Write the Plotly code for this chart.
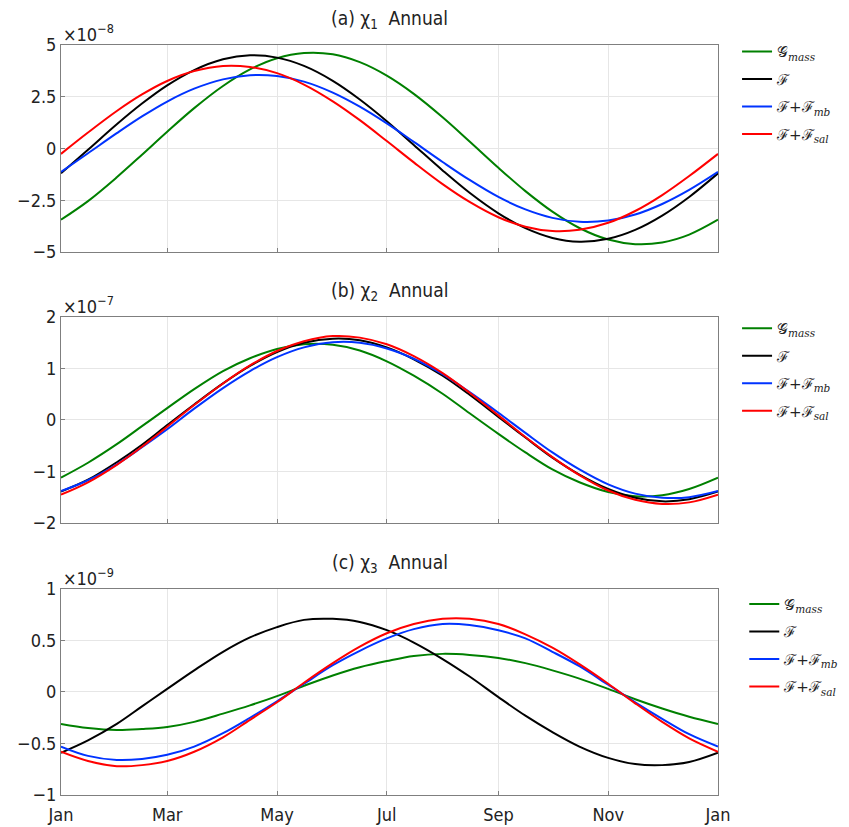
import plotly.graph_objects as go

# Sample dates (1st and 16th/15th of each month)
dates = ["2001-01-01", "2001-01-16", "2001-02-01", "2001-02-15", "2001-03-01", "2001-03-16",
         "2001-04-01", "2001-04-16", "2001-05-01", "2001-05-16", "2001-06-01", "2001-06-16",
         "2001-07-01", "2001-07-16", "2001-08-01", "2001-08-16", "2001-09-01", "2001-09-16",
         "2001-10-01", "2001-10-16", "2001-11-01", "2001-11-16", "2001-12-01", "2001-12-16",
         "2002-01-01"]

tick_vals = ["2001-01-01", "2001-03-01", "2001-05-01", "2001-07-01",
             "2001-09-01", "2001-11-01", "2002-01-01"]
tick_text = ["Jan", "Mar", "May", "Jul", "Sep", "Nov", "Jan"]

# (a) chi_1, units of 1e-8
a_gmass = [-3.44, -2.54, -1.39, -0.30, 0.81, 1.95, 3.02, 3.82, 4.36, 4.61, 4.55, 4.17, 3.52,
           2.64, 1.51, 0.34, -0.93, -2.06, -3.05, -3.84, -4.40, -4.62, -4.54, -4.16, -3.44]
a_f     = [-1.20, -0.06, 1.17, 2.17, 3.05, 3.79, 4.31, 4.50, 4.39, 3.99, 3.27, 2.37, 1.32,
           0.17, -1.06, -2.14, -3.13, -3.85, -4.32, -4.50, -4.36, -3.93, -3.24, -2.34, -1.20]
a_fmb   = [-1.13, -0.23, 0.74, 1.55, 2.27, 2.89, 3.34, 3.54, 3.50, 3.23, 2.70, 2.02, 1.21,
           0.32, -0.65, -1.52, -2.34, -2.94, -3.35, -3.54, -3.48, -3.19, -2.68, -2.00, -1.13]
a_fsal  = [-0.26, 0.77, 1.81, 2.61, 3.26, 3.74, 3.99, 3.94, 3.64, 3.09, 2.28, 1.37, 0.36,
           -0.67, -1.72, -2.58, -3.32, -3.78, -3.99, -3.93, -3.59, -3.02, -2.25, -1.33, -0.26]

# (b) chi_2, units of 1e-7
b_gmass = [-1.12, -0.83, -0.47, -0.12, 0.23, 0.60, 0.95, 1.20, 1.38, 1.47, 1.46, 1.35, 1.14,
           0.86, 0.51, 0.13, -0.27, -0.63, -0.96, -1.21, -1.40, -1.48, -1.46, -1.34, -1.12]
b_f     = [-1.39, -1.16, -0.82, -0.48, -0.10, 0.30, 0.71, 1.05, 1.32, 1.50, 1.58, 1.55, 1.41,
           1.18, 0.86, 0.49, 0.06, -0.34, -0.73, -1.06, -1.34, -1.51, -1.58, -1.54, -1.39]
b_fmb   = [-1.38, -1.17, -0.86, -0.53, -0.18, 0.22, 0.62, 0.95, 1.22, 1.41, 1.51, 1.50, 1.39,
           1.19, 0.89, 0.54, 0.14, -0.25, -0.63, -0.96, -1.25, -1.43, -1.51, -1.50, -1.38]
b_fsal  = [-1.45, -1.21, -0.87, -0.52, -0.13, 0.29, 0.71, 1.06, 1.34, 1.53, 1.63, 1.60, 1.47,
           1.24, 0.91, 0.53, 0.09, -0.33, -0.72, -1.07, -1.37, -1.55, -1.63, -1.60, -1.45]

# (c) chi_3, units of 1e-9
c_gmass = [-0.31, -0.35, -0.37, -0.36, -0.34, -0.29, -0.21, -0.13, -0.04, 0.06, 0.16, 0.24, 0.30,
           0.35, 0.37, 0.36, 0.33, 0.28, 0.21, 0.13, 0.03, -0.07, -0.16, -0.24, -0.31]
c_f     = [-0.59, -0.47, -0.31, -0.14, 0.03, 0.21, 0.39, 0.53, 0.63, 0.70, 0.71, 0.68, 0.60,
           0.48, 0.32, 0.15, -0.05, -0.23, -0.39, -0.53, -0.64, -0.70, -0.71, -0.68, -0.59]
c_fmb   = [-0.53, -0.62, -0.66, -0.65, -0.61, -0.53, -0.40, -0.25, -0.09, 0.08, 0.26, 0.40, 0.52,
           0.61, 0.66, 0.65, 0.60, 0.52, 0.39, 0.25, 0.07, -0.10, -0.26, -0.41, -0.53]
c_fsal  = [-0.58, -0.67, -0.72, -0.71, -0.67, -0.58, -0.44, -0.27, -0.10, 0.09, 0.28, 0.44, 0.57,
           0.66, 0.71, 0.71, 0.66, 0.56, 0.43, 0.27, 0.08, -0.11, -0.29, -0.45, -0.58]

series_names = ["𝒢<sub><i>mass</i></sub>", "ℱ", "ℱ+ℱ<sub><i>mb</i></sub>", "ℱ+ℱ<sub><i>sal</i></sub>"]
colors = ["#008000", "#000000", "#0033ff", "#ff0000"]

panels = [
    dict(data=[a_gmass, a_f, a_fmb, a_fsal], title="(a) χ<sub>1</sub>  Annual", exp="×10<sup>−8</sup>",
         yrange=[-5, 5], tickvals=[-5, -2.5, 0, 2.5, 5], ticktext=["−5", "−2.5", "0", "2.5", "5"],
         domain=[0.724, 1.0]),
    dict(data=[b_gmass, b_f, b_fmb, b_fsal], title="(b) χ<sub>2</sub>  Annual", exp="×10<sup>−7</sup>",
         yrange=[-2, 2], tickvals=[-2, -1, 0, 1, 2], ticktext=["−2", "−1", "0", "1", "2"],
         domain=[0.3627, 0.6373]),
    dict(data=[c_gmass, c_f, c_fmb, c_fsal], title="(c) χ<sub>3</sub>  Annual", exp="×10<sup>−9</sup>",
         yrange=[-1, 1], tickvals=[-1, -0.5, 0, 0.5, 1], ticktext=["−1", "−0.5", "0", "0.5", "1"],
         domain=[0.0, 0.2747]),
]

legend_pos = [(1.029, 1.013), (1.029, 0.644), (1.040, 0.2763)]

fig = go.Figure()
font_family = "DejaVu Sans Condensed, DejaVu Sans, sans-serif"
axis_color = "#7f7f7f"
grid_color = "#e6e6e6"

layout = dict(
    width=841, height=819,
    paper_bgcolor="white", plot_bgcolor="white",
    margin=dict(l=53, r=131, t=37, b=32, autoexpand=False),
    showlegend=True,
    annotations=[],
)

for i, p in enumerate(panels):
    idx = "" if i == 0 else str(i + 1)
    xa = "x" + idx
    ya = "y" + idx
    leg = "legend" + idx
    for j, (vals, name, col) in enumerate(zip(p["data"], series_names, colors)):
        fig.add_trace(go.Scatter(
            x=dates, y=vals, mode="lines", name=name,
            line=dict(color=col, width=2, shape="spline"),
            xaxis=xa, yaxis=ya, legend=leg, legendgroup=f"p{i}s{j}",
        ))
    layout["xaxis" + idx] = dict(
        domain=[0, 1], anchor=ya, type="date",
        range=["2001-01-01", "2002-01-01"],
        tickvals=tick_vals, ticktext=tick_text,
        showticklabels=(i == 2), ticklabelstandoff=3,
        showgrid=True, gridcolor=grid_color, gridwidth=1,
        showline=True, linecolor=axis_color, linewidth=1, mirror=True,
        ticks="inside", ticklen=4, tickcolor=axis_color,
        zeroline=False,
        tickfont=dict(family=font_family, size=18, color="#222222"),
    )
    layout["yaxis" + idx] = dict(
        domain=p["domain"], anchor=xa,
        range=p["yrange"], tickvals=p["tickvals"], ticktext=p["ticktext"],
        showgrid=True, gridcolor=grid_color, gridwidth=1,
        showline=True, linecolor=axis_color, linewidth=1, mirror=True,
        ticks="inside", ticklen=4, tickcolor=axis_color,
        zeroline=False,
        tickfont=dict(family=font_family, size=18, color="#222222"),
    )
    lx, ly = legend_pos[i]
    layout[leg] = dict(
        x=lx, y=ly, xanchor="left", yanchor="top",
        bgcolor="rgba(0,0,0,0)", borderwidth=0,
        font=dict(family="DejaVu Serif, serif", size=15, color="#222222"),
        tracegroupgap=5,
    )
    layout["annotations"].append(dict(
        text=p["title"], x=0.5, y=p["domain"][1], xref="paper", yref="paper",
        xanchor="center", yanchor="bottom", yshift=11, showarrow=False,
        font=dict(family=font_family, size=19, color="#222222"),
    ))
    layout["annotations"].append(dict(
        text=p["exp"], x=0, y=p["domain"][1], xref="paper", yref="paper",
        xanchor="left", yanchor="bottom", yshift=-2, showarrow=False,
        font=dict(family=font_family, size=18, color="#222222"),
    ))

fig.update_layout(**layout)
fig.write_html("out.html")
